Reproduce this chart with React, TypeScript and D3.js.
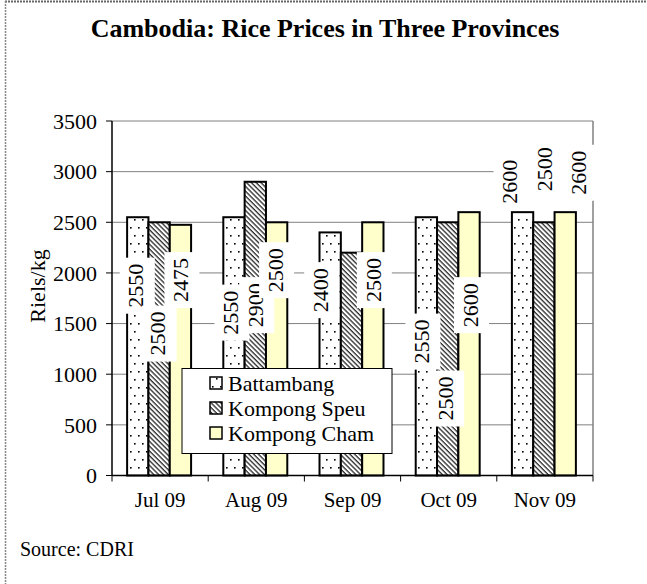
import React from "react";
import * as d3 from "d3";

const months = ["Jul 09", "Aug 09", "Sep 09", "Oct 09", "Nov 09"];
const seriesNames = ["Battambang", "Kompong Speu", "Kompong Cham"];
const battambang = [2550, 2550, 2400, 2550, 2600];
const kompongSpeu = [2500, 2900, 2200, 2500, 2500];
const kompongCham = [2475, 2500, 2500, 2600, 2600];
const yTicks = [0, 500, 1000, 1500, 2000, 2500, 3000, 3500];

// where each data label sits (in value units), and its horizontal nudge (px)
const labelAtB = [1874, 1608, 1830, 1322, 2900];
const labelAtS = [1401, 1682, 700, 760, 3024];
const labelAtC = [1929, 2027, 1929, 1682, 2989];
const labelDxB = [-2, -3.5, -10, -5, -13];
const labelDxS = [-1.5, 0, 0, -2.5, 0];
const labelDxC = [0, -1.5, 0, 1, 13];

const W = 647;
const H = 584;
const plot = { left: 112, right: 593, top: 121, bottom: 475.5 };
const FONT = "'Liberation Serif', 'Times New Roman', serif";

const fills = ["url(#dots)", "url(#hatch)", "#FFFFCC"];

export default function App() {
  const values = [battambang, kompongSpeu, kompongCham];
  const labelAt = [labelAtB, labelAtS, labelAtC];
  const labelDx = [labelDxB, labelDxS, labelDxC];

  const y = d3.scaleLinear().domain([0, 3500]).range([plot.bottom, plot.top]);
  const x0 = d3.scaleBand<string>().domain(months).range([plot.left, plot.right]).padding(0);
  const bw = x0.bandwidth();
  const groupW = bw * 0.665;
  const off = (bw - groupW) / 2 - 1;
  const x1 = d3
    .scaleBand<string>()
    .domain(seriesNames)
    .range([off, off + groupW])
    .padding(0);

  const boundaries = months.map((m) => x0(m)!).concat([plot.right]);

  return (
    <svg
      width={W}
      height={H}
      style={{ position: "absolute", left: 0, top: 0, display: "block", background: "#fff" }}
      fontFamily={FONT}
    >
      <defs>
        <pattern id="dots" patternUnits="userSpaceOnUse" width="8" height="16">
          <rect width="8" height="16" fill="#fff" />
          <rect x="2" y="3" width="1.6" height="1.6" fill="#000" />
          <rect x="6" y="11" width="1.6" height="1.6" fill="#000" />
        </pattern>
        <pattern
          id="hatch"
          patternUnits="userSpaceOnUse"
          width="3.4"
          height="3.4"
          patternTransform="rotate(-45)"
        >
          <rect width="3.4" height="3.4" fill="#fff" />
          <line x1="1" y1="-1" x2="1" y2="5" stroke="#000" strokeWidth="1.1" />
        </pattern>
      </defs>

      {/* outer chart border */}
      <line x1={5} y1={1.5} x2={W} y2={1.5} stroke="#666" strokeWidth={2} strokeDasharray="2,1" />
      <line x1={5.5} y1={1} x2={5.5} y2={H} stroke="#888" strokeWidth={1.5} strokeDasharray="2,1" />

      {/* title */}
      <text x={325} y={37} textAnchor="middle" fontSize={26} fontWeight="bold" fill="#000">
        Cambodia: Rice Prices in Three Provinces
      </text>

      {/* gridlines */}
      {yTicks.filter((t) => t > 0).map((t) => (
        <line key={t} x1={plot.left} x2={plot.right} y1={y(t)} y2={y(t)} stroke="#808080" strokeWidth={1} />
      ))}
      <line x1={plot.right} x2={plot.right} y1={plot.top} y2={plot.bottom} stroke="#808080" strokeWidth={1.5} />

      {/* bars */}
      {months.map((m, i) =>
        seriesNames.map((s, k) => {
          const v = values[k][i];
          return (
            <rect
              key={m + s}
              x={x0(m)! + x1(s)!}
              y={y(v)}
              width={x1.bandwidth()}
              height={y(0) - y(v)}
              fill={fills[k]}
              stroke="#000"
              strokeWidth={2}
            />
          );
        })
      )}

      {/* axes */}
      <line x1={plot.left} x2={plot.left} y1={plot.top} y2={plot.bottom} stroke="#000" strokeWidth={1.5} />
      <line x1={plot.left} x2={plot.right} y1={plot.bottom} y2={plot.bottom} stroke="#000" strokeWidth={1.5} />
      {yTicks.map((t) => (
        <g key={t}>
          <line x1={plot.left - 6} x2={plot.left} y1={y(t)} y2={y(t)} stroke="#000" strokeWidth={1} />
          <text x={97} y={y(t)} dy="0.35em" textAnchor="end" fontSize={22} fill="#000">
            {t}
          </text>
        </g>
      ))}
      {boundaries.map((bx, i) => (
        <line key={i} x1={bx} x2={bx} y1={plot.bottom} y2={plot.bottom + 6} stroke="#000" strokeWidth={1} />
      ))}
      {months.map((m) => (
        <text key={m} x={x0(m)! + bw / 2} y={507} textAnchor="middle" fontSize={21} fill="#000">
          {m}
        </text>
      ))}
      <text
        transform={`translate(37, 286) rotate(-90)`}
        textAnchor="middle"
        dy="0.35em"
        fontSize={22}
        fill="#000"
      >
        Riels/kg
      </text>

      {/* data labels */}
      {seriesNames.map((s, k) =>
        months.map((m, i) => {
          const cx = x0(m)! + x1(s)! + x1.bandwidth() / 2 + labelDx[k][i];
          const cy = y(labelAt[k][i]);
          return (
            <g key={"lab" + s + m} transform={`translate(${cx},${cy})`}>
              <rect x={-16} y={-28} width={35} height={56} fill="#fff" />
              <text
                transform="rotate(-90)"
                textAnchor="middle"
                dy="0.35em"
                fontSize={22}
                fill="#000"
              >
                {values[k][i]}
              </text>
            </g>
          );
        })
      )}

      {/* legend */}
      <g>
        <rect x={182} y={368.5} width={210} height={85} fill="#fff" stroke="#000" strokeWidth={1} />
        {seriesNames.map((s, k) => (
          <g key={s} transform={`translate(210, ${383 + k * 25})`}>
            <rect x={0} y={-6} width={12} height={12} fill={fills[k]} stroke="#000" strokeWidth={1.5} />
            <text x={18} y={0} dy="0.35em" fontSize={22} fill="#000">
              {s}
            </text>
          </g>
        ))}
      </g>

      {/* source */}
      <text x={20} y={556} fontSize={20} fill="#000">
        Source: CDRI
      </text>
    </svg>
  );
}
